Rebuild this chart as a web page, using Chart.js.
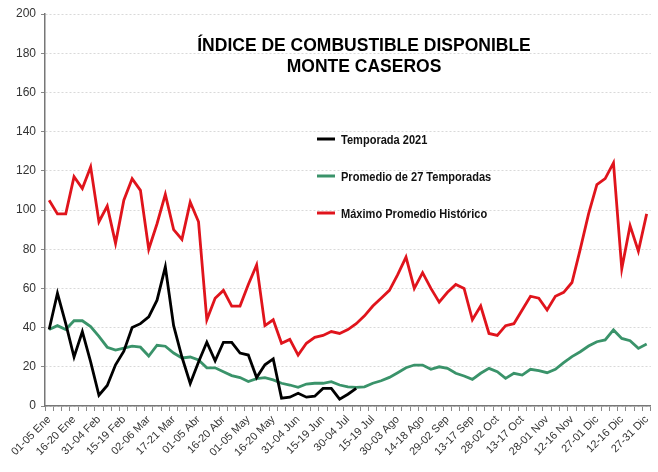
<!DOCTYPE html>
<html>
<head>
<meta charset="utf-8">
<script src="https://cdn.jsdelivr.net/npm/chart.js@4/dist/chart.umd.min.js"></script>
<style>
  html, body { margin: 0; padding: 0; background: #fff; }
  #wrap { width: 658px; height: 472px; }
</style>
</head>
<body>
<div id="wrap"><canvas id="chart"></canvas></div>
<script>
// 5-day periods of the year (73)
const periods = [
    "01-05 Ene", "06-10 Ene", "11-15 Ene", "16-20 Ene", "21-25 Ene", "26-30 Ene",
    "31-04 Feb", "05-09 Feb", "10-14 Feb", "15-19 Feb", "20-24 Feb", "25-01 Mar",
    "02-06 Mar", "07-11 Mar", "12-16 Mar", "17-21 Mar", "22-26 Mar", "27-31 Mar",
    "01-05 Abr", "06-10 Abr", "11-15 Abr", "16-20 Abr", "21-25 Abr", "26-30 Abr",
    "01-05 May", "06-10 May", "11-15 May", "16-20 May", "21-25 May", "26-30 May",
    "31-04 Jun", "05-09 Jun", "10-14 Jun", "15-19 Jun", "20-24 Jun", "25-29 Jun",
    "30-04 Jul", "05-09 Jul", "10-14 Jul", "15-19 Jul", "20-24 Jul", "25-29 Jul",
    "30-03 Ago", "04-08 Ago", "09-13 Ago", "14-18 Ago", "19-23 Ago", "24-28 Ago",
    "29-02 Sep", "03-07 Sep", "08-12 Sep", "13-17 Sep", "18-22 Sep", "23-27 Sep",
    "28-02 Oct", "03-07 Oct", "08-12 Oct", "13-17 Oct", "18-22 Oct", "23-27 Oct",
    "28-01 Nov", "02-06 Nov", "07-11 Nov", "12-16 Nov", "17-21 Nov", "22-26 Nov",
    "27-01 Dic", "02-06 Dic", "07-11 Dic", "12-16 Dic", "17-21 Dic", "22-26 Dic",
    "27-31 Dic"
];

// Temporada 2021 (only up to early July)
const season2021 = [
    39, 57.5, 42, 25, 38, 22.5, 5.5, 10.5, 21, 28,
    40, 42, 45.5, 54, 71, 41, 25, 11.5, 22.5, 32.5,
    23, 32.5, 32.5, 27, 26, 14.5, 21, 24, 4, 4.5,
    6.5, 4.5, 5, 9, 9, 3.5, 6, 9
];

// Promedio de 27 Temporadas
const average27 = [
    39, 41, 39, 43.5, 43.5, 40.5, 35.5, 30, 28.5, 29.5,
    30.5, 30, 25.5, 31, 30.5, 27, 24.5, 25, 23.5, 19.5,
    19.5, 17.5, 15.5, 14.5, 12.5, 14, 14.5, 13.3, 11.6, 10.7,
    9.5, 11.2, 11.6, 11.6, 12.4, 10.7, 9.8, 9.5, 9.8, 11.6,
    12.9, 14.6, 17, 19.5, 20.9, 20.9, 18.7, 20, 19.2, 16.7,
    15.3, 13.6, 16.7, 19.2, 17.5, 14.1, 16.7, 15.8, 18.7, 18,
    17, 18.7, 22.1, 25.2, 27.7, 30.6, 32.8, 33.7, 38.8, 34.5,
    33.3, 29.4, 31.6
];

// Máximo Promedio Histórico
const maxHistoric = [
    105, 98, 98, 117, 111, 122, 94, 102, 83, 105,
    116, 110, 80, 93, 108, 90, 85, 104, 94, 44,
    55, 59, 51, 51, 62, 72, 41, 44, 32, 34,
    26, 32, 35, 36, 38, 37, 39, 42, 46, 51,
    55, 59, 67, 76, 60, 68, 60, 53, 58, 62,
    60, 44, 51, 37, 36, 41, 42, 49, 56, 55,
    49, 56, 58, 63, 80, 98, 113, 116, 124, 70,
    92, 79, 98
];

const titleLines = ["ÍNDICE DE COMBUSTIBLE DISPONIBLE", "MONTE CASEROS"];

// title + legend drawn inside the plot area, like the original sheet
const overlayPlugin = {
    id: "overlay",
    afterDatasetsDraw(chart) {
        const ctx = chart.ctx;
        ctx.save();
        ctx.fillStyle = "#000";
        ctx.textAlign = "center";
        ctx.textBaseline = "middle";
        ctx.font = 'bold 17.5px "Liberation Sans", Arial, sans-serif';
        ctx.fillText(titleLines[0], 364, 46);
        ctx.fillText(titleLines[1], 364, 67);

        // legend text is a condensed bold face in the original
        ctx.font = 'bold 13px "Liberation Sans", Arial, sans-serif';
        ctx.textAlign = "left";
        const rows = [139, 176, 213];
        chart.data.datasets.forEach((ds, i) => {
            const y = rows[i];
            ctx.strokeStyle = ds.borderColor;
            ctx.lineWidth = 3;
            ctx.beginPath();
            ctx.moveTo(317, y);
            ctx.lineTo(335, y);
            ctx.stroke();
            ctx.save();
            ctx.translate(341, y + 1);
            ctx.scale(0.85, 1);
            ctx.fillStyle = "#111";
            ctx.fillText(ds.label, 0, 0);
            ctx.restore();
        });
        ctx.restore();
    }
};

new Chart(document.getElementById("chart"), {
    type: "line",
    data: {
        labels: periods,
        datasets: [
            {
                label: "Temporada 2021",
                data: season2021,
                borderColor: "#000000",
                borderWidth: 2.8,
                pointRadius: 0,
                tension: 0,
            },
            {
                label: "Promedio de 27 Temporadas",
                data: average27,
                borderColor: "#3a936a",
                borderWidth: 2.8,
                pointRadius: 0,
                tension: 0,
            },
            {
                label: "Máximo Promedio Histórico",
                data: maxHistoric,
                borderColor: "#e0141c",
                borderWidth: 2.8,
                pointRadius: 0,
                tension: 0,
            },
        ],
    },
    options: {
        responsive: true,
        maintainAspectRatio: false,
        animation: false,
        layout: { padding: { left: 0, right: -4, top: 14, bottom: 0 } },
        plugins: {
            legend: { display: false },
            tooltip: { enabled: false },
        },
        scales: {
            x: {
                offset: true,
                grid: {
                    drawOnChartArea: false,
                    drawTicks: true,
                    tickLength: 5,
                    tickColor: "#888",
                    offset: true,
                },
                border: { color: "#777", width: 1.5 },
                ticks: {
                    autoSkip: false,
                    minRotation: 45,
                    maxRotation: 45,
                    padding: 2,
                    color: "#333",
                    font: { family: '"Liberation Sans", Arial, sans-serif', size: 11 },
                    callback: (v, i) => (i % 3 === 0 ? periods[i] : ""),
                },
                afterFit: s => { s.height = 66; },
            },
            y: {
                min: 0,
                max: 200,
                ticks: {
                    stepSize: 20,
                    padding: 5,
                    color: "#333",
                    font: { family: '"Liberation Sans", Arial, sans-serif', size: 12 },
                },
                grid: {
                    color: "#d9d9d9",
                    tickColor: "#888",
                    tickLength: 4,
                    tickBorderDash: [],
                },
                border: { color: "#777", width: 1.5, dash: [2, 2] },
                afterFit: s => { s.width = 45; },
            },
        },
    },
    plugins: [overlayPlugin],
});
</script>
</body>
</html>
